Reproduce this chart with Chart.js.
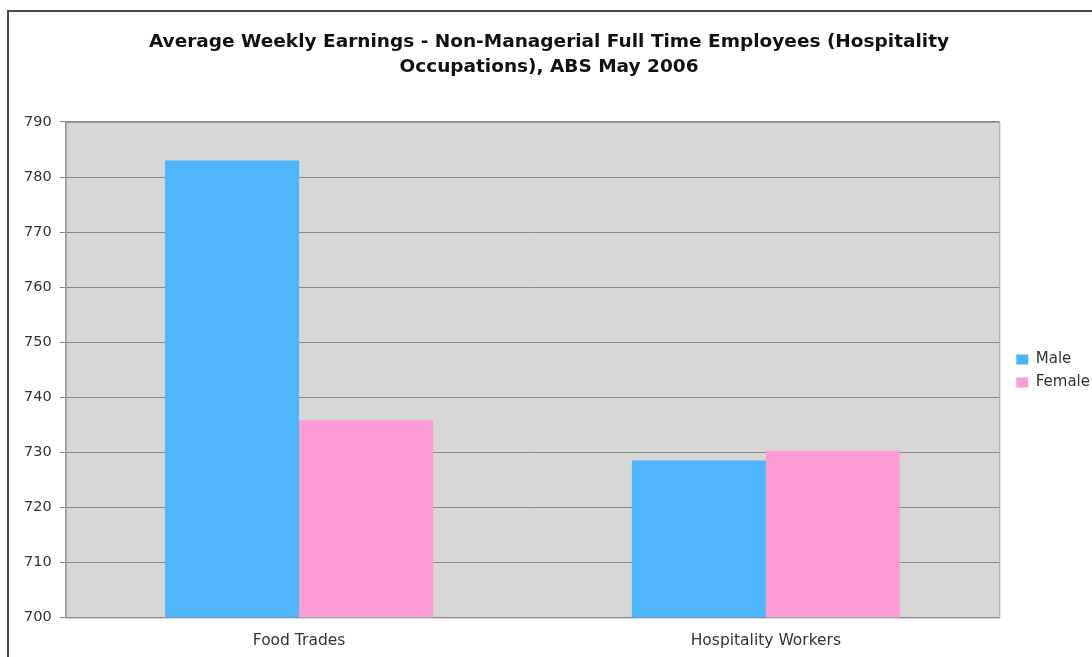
<!DOCTYPE html>
<html>
<head>
<meta charset="utf-8">
<script src="https://cdn.jsdelivr.net/npm/chart.js@4"></script>
<style>
  html, body { margin: 0; padding: 0; background: #fff; overflow: hidden; }
  #frame { position: absolute; left: 7px; top: 10px; width: 1100px; height: 660px; border: 2px solid #4a4a4a; }
  #wrap { position: absolute; left: 0; top: 0; width: 1092px; height: 656px; }
</style>
</head>
<body>
<div id="frame"></div>
<div id="wrap"><canvas id="chart"></canvas></div>
<script>
const categories = ['Food Trades', 'Hospitality Workers'];
const male = [783, 728.5];
const female = [735.8, 730.3];
const yTicks = [700, 710, 720, 730, 740, 750, 760, 770, 780, 790];

// grey plot background behind the bars, title nudged back to the page centre
const plotBg = {
  id: 'plotBg',
  afterLayout(chart) {
    const t = chart.titleBlock;
    if (t) { t.left -= 9; t.right -= 9; }
  },
  beforeDraw(chart) {
    const { ctx, chartArea: a } = chart;
    ctx.save();
    ctx.fillStyle = '#d7d7d7';
    ctx.fillRect(a.left, a.top, a.right - a.left, a.bottom - a.top);
    ctx.strokeStyle = '#9a9a9a';
    ctx.lineWidth = 1;
    ctx.strokeRect(a.left + 0.5, a.top + 0.5, a.right - a.left, a.bottom - a.top);
    ctx.restore();
  }
};

const ctx = document.getElementById('chart').getContext('2d');
new Chart(ctx, {
  type: 'bar',
  data: {
    labels: categories,
    datasets: [
      { label: 'Male', data: male, backgroundColor: '#4db5fa', categoryPercentage: 0.574, barPercentage: 1 },
      { label: 'Female', data: female, backgroundColor: '#fd9cd5', categoryPercentage: 0.574, barPercentage: 1 }
    ]
  },
  options: {
    responsive: true,
    maintainAspectRatio: false,
    animation: false,
    layout: { padding: { left: 16, top: 0, right: -8, bottom: 0 } },
    plugins: {
      title: {
        display: true,
        text: ['Average Weekly Earnings - Non-Managerial Full Time Employees (Hospitality', 'Occupations), ABS May 2006'],
        font: { family: 'DejaVu Sans', size: 18.5, weight: 'bold', lineHeight: 1.35 },
        color: '#111',
        padding: { top: 30, bottom: 42 }
      },
      legend: {
        position: 'right',
        align: 'center',
        // empty title only pushes the items down
        title: { display: true, text: '', font: { size: 4 }, padding: { top: 81, bottom: 0 } },
        labels: {
          font: { family: 'DejaVu Sans', size: 15 },
          color: '#333',
          boxWidth: 12,
          boxHeight: 10,
          padding: 8
        }
      },
      tooltip: { enabled: false }
    },
    scales: {
      x: {
        grid: { display: false },
        border: { display: false },
        ticks: { font: { family: 'DejaVu Sans', size: 15.5 }, color: '#333', padding: 6 }
      },
      y: {
        min: 700,
        max: 790,
        afterBuildTicks(scale) { scale.ticks = yTicks.map(v => ({ value: v })); },
        grid: { color: '#8a8a8a', tickLength: 6, drawOnChartArea: true },
        border: { display: true, color: '#9a9a9a' },
        ticks: { font: { family: 'DejaVu Sans', size: 14.5 }, color: '#333', padding: 8 }
      },
      // blank axis, only keeps a gap between plot and legend
      gap: {
        type: 'linear',
        position: 'right',
        min: 0,
        max: 1,
        grid: { display: false },
        border: { display: false },
        ticks: { display: false },
        afterFit(scale) { scale.width = 9; }
      }
    }
  },
  plugins: [plotBg]
});
</script>
</body>
</html>
